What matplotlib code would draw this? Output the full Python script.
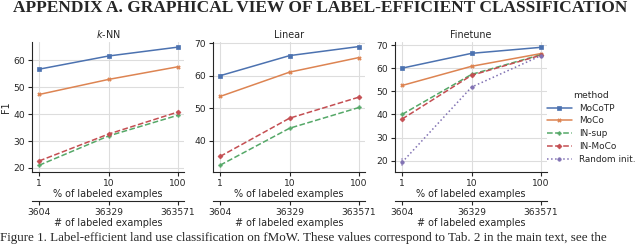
import matplotlib
matplotlib.use("Agg")
import matplotlib.pyplot as plt
import seaborn as sns

sns.set_style("ticks")
plt.rcParams['font.family'] = ['DejaVu Sans']

pct = [1, 10, 100]
pct_labels = ["1", "10", "100"]
count_labels = ["3604", "36329", "363571"]
methods = ["MoCoTP", "MoCo", "IN-sup", "IN-MoCo", "Random init."]
titles = ["$k$-NN", "Linear", "Finetune"]

knn = {
    "MoCoTP": [56.7, 61.6, 64.9],
    "MoCo": [47.3, 52.9, 57.6],
    "IN-sup": [21.0, 31.9, 39.6],
    "IN-MoCo": [22.6, 32.6, 40.8],
}
linear = {
    "MoCoTP": [60.0, 66.2, 69.0],
    "MoCo": [53.6, 61.1, 65.6],
    "IN-sup": [32.4, 43.8, 50.2],
    "IN-MoCo": [35.1, 46.9, 53.4],
}
finetune = {
    "MoCoTP": [60.0, 66.4, 69.0],
    "MoCo": [52.5, 60.8, 66.3],
    "IN-sup": [40.0, 57.3, 65.8],
    "IN-MoCo": [38.0, 56.9, 65.6],
    "Random init.": [19.3, 51.8, 65.4],
}
random_lo = [17.6, 51.3, 65.0]
random_hi = [21.0, 52.3, 65.8]

colors = {"MoCoTP": "#4C72B0", "MoCo": "#DD8452", "IN-sup": "#55A868",
          "IN-MoCo": "#C44E52", "Random init.": "#8172B3"}
styles = {"MoCoTP": "-", "MoCo": "-", "IN-sup": "--", "IN-MoCo": "--", "Random init.": ":"}
markers = {"MoCoTP": "s", "MoCo": "X", "IN-sup": "P", "IN-MoCo": "D", "Random init.": "o"}

W, H = 640, 245
fig = plt.figure(figsize=(6.4, 2.45), dpi=100)

def px(x0, y_top, x1, y_bot):
    return [x0 / W, 1 - y_bot / H, (x1 - x0) / W, (y_bot - y_top) / H]

boxes = [px(32, 42, 184, 172), px(213, 42, 365, 172), px(395, 42, 547, 172)]
datas = [knn, linear, finetune]
ylims = [(18.5, 66.8), (30.3, 70.4), (15.1, 71.3)]
yticks = [[20, 30, 40, 50, 60], [40, 50, 60, 70], [20, 30, 40, 50, 60, 70]]

fs_tick = 6.6
fs_lab = 6.9
fs_leg = 6.4
for i, (box, data) in enumerate(zip(boxes, datas)):
    ax = fig.add_axes(box)
    ax.set_xscale("log")
    for m in methods:
        if m not in data:
            continue
        ax.plot(pct, data[m], color=colors[m], ls=styles[m], marker=markers[m],
                markersize=2.5, lw=1.1, label=m, markeredgewidth=0.5)
    if i == 2:
        ax.vlines(pct, random_lo, random_hi, color=colors["Random init."], alpha=0.5, lw=1.2)
    ax.set_xlim(0.79, 122)
    ax.set_ylim(*ylims[i])
    ax.set_yticks(yticks[i])
    ax.set_xticks(pct, pct_labels)
    ax.xaxis.set_minor_locator(matplotlib.ticker.NullLocator())
    ax.grid(True, color="#dddddd", lw=0.8)
    ax.set_axisbelow(True)
    ax.tick_params(labelsize=fs_tick, length=3, pad=2)
    ax.set_xlabel("% of labeled examples", fontsize=fs_lab, labelpad=1)
    ax.set_title(titles[i], fontsize=fs_lab, pad=3)
    if i == 0:
        ax.set_ylabel("F1", fontsize=fs_lab, labelpad=2)
    sns.despine(ax=ax)
    sec = ax.secondary_xaxis(-0.223)
    sec.set_xticks(pct, count_labels)
    sec.xaxis.set_minor_locator(matplotlib.ticker.NullLocator())
    sec.tick_params(labelsize=fs_tick, length=3, pad=2)
    sec.set_xlabel("# of labeled examples", fontsize=fs_lab, labelpad=1)
    for s in ["top", "left", "right"]:
        sec.spines[s].set_visible(False)
    if i == 2:
        handles, labels = ax.get_legend_handles_labels()

leg = fig.legend(handles, labels, title="method", loc="upper left",
                 bbox_to_anchor=(547 / W, 1 - 91 / H), frameon=False,
                 fontsize=fs_leg, title_fontsize=fs_leg + 0.3, handlelength=2.8,
                 labelspacing=0.42, handletextpad=0.8, borderpad=0.0,
                 borderaxespad=0.0)

fig.text(0.5, 1 - 8 / H, "APPENDIX A. GRAPHICAL VIEW OF LABEL-EFFICIENT CLASSIFICATION",
         ha="center", va="center", fontsize=12.5, fontweight="bold",
         family="Liberation Serif")
fig.text(0.0, 1 - 232 / H,
         "Figure 1. Label-efficient land use classification on fMoW. These values correspond to Tab. 2 in the main text, see the",
         ha="left", va="top", fontsize=9.4, family="Liberation Serif")

fig.savefig("out.png", dpi=100)
